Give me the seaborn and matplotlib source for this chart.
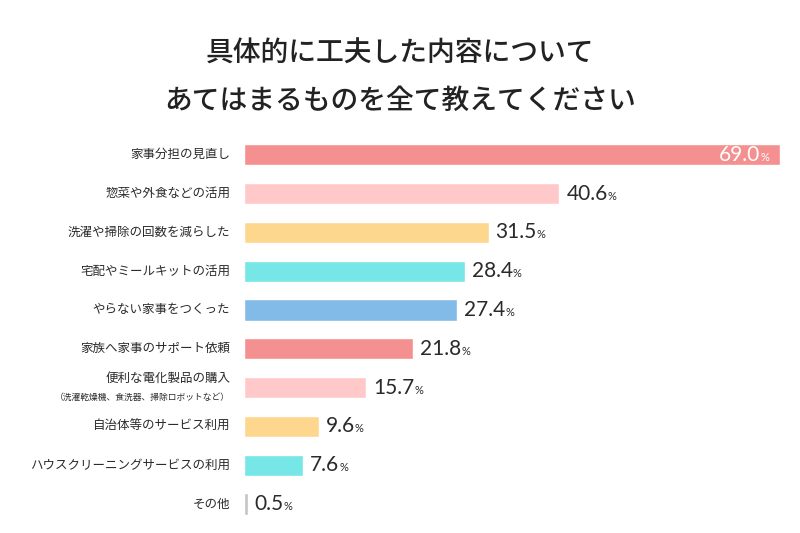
import seaborn as sns
import matplotlib.pyplot as plt
import pandas as pd
import numpy as np
from matplotlib.offsetbox import TextArea, HPacker, AnnotationBbox

# data
items = ['家事分担の見直し', '惣菜や外食などの活用', '洗濯や掃除の回数を減らした',
         '宅配やミールキットの活用', 'やらない家事をつくった', '家族へ家事のサポート依頼',
         '便利な電化製品の購入', '自治体等のサービス利用',
         'ハウスクリーニングサービスの利用', 'その他']
sub_labels = ['', '', '', '', '', '', '（洗濯乾燥機、食洗器、掃除ロボットなど）', '', '', '']
percent = [69.0, 40.6, 31.5, 28.4, 27.4, 21.8, 15.7, 9.6, 7.6, 0.5]
colors = ['#F49090', '#FFC9CA', '#FDD78E', '#76E6E6', '#82BBE8',
          '#F49090', '#FFC9CA', '#FDD78E', '#76E6E6', '#C4C4C4']

df = pd.DataFrame({'item': items, 'pct': percent})

sns.set_style('white')
plt.rcParams['font.family'] = ['Noto Sans CJK JP', 'DejaVu Sans']

fig = plt.figure(figsize=(8, 5.33), dpi=100)
ax = fig.add_axes([0.305, 0.018, 0.67, 0.728])

sns.barplot(data=df, x='pct', y='item', hue='item', palette=colors,
            width=0.55, legend=False, ax=ax, saturation=1)
ax.set_xlim(0, 69.0)
ax.set_ylim(9.5, -0.5)
ax.set_xlabel('')
ax.set_ylabel('')
ax.set_xticks([])
ax.set_yticks([])
for s in ax.spines.values():
    s.set_visible(False)

# category labels (one has a small second line)
for i, (lab, sub) in enumerate(zip(items, sub_labels)):
    if sub:
        ax.annotate(lab, xy=(0, i), xycoords=('axes fraction', 'data'),
                    xytext=(-10, 7), textcoords='offset points',
                    ha='right', va='center', fontsize=9, color='#2a2a2a')
        ax.annotate(sub, xy=(0, i), xycoords=('axes fraction', 'data'),
                    xytext=(-10, -7), textcoords='offset points',
                    ha='right', va='center', fontsize=6.3, color='#2a2a2a')
    else:
        ax.annotate(lab, xy=(0, i), xycoords=('axes fraction', 'data'),
                    xytext=(-10, 0), textcoords='offset points',
                    ha='right', va='center', fontsize=9, color='#2a2a2a')

# value labels: number + small %
for i, v in enumerate(percent):
    inside = i == 0
    c = 'white' if inside else '#2a2a2a'
    num = TextArea(f'{v:.1f}', textprops=dict(fontsize=15, color=c, family='Lato'))
    pc = TextArea('%', textprops=dict(fontsize=8, color=c, family='Lato'))
    box = HPacker(children=[num, pc], align='baseline', pad=0, sep=0)
    if inside:
        ab = AnnotationBbox(box, (v, i), xybox=(-8, 0), xycoords='data',
                            boxcoords='offset points', box_alignment=(1, 0.5),
                            frameon=False, pad=0)
    else:
        ab = AnnotationBbox(box, (v, i), xybox=(5, 0), xycoords='data',
                            boxcoords='offset points', box_alignment=(0, 0.5),
                            frameon=False, pad=0)
    ab.set_clip_on(False)
    ax.add_artist(ab)

fig.text(0.5, 0.9, '具体的に工夫した内容について', ha='center', va='center',
         fontsize=20, fontweight='medium', color='#222222')
fig.text(0.5, 0.812, 'あてはまるものを全て教えてください', ha='center', va='center',
         fontsize=20, fontweight='medium', color='#222222')

fig.savefig('out.png', dpi=100)
